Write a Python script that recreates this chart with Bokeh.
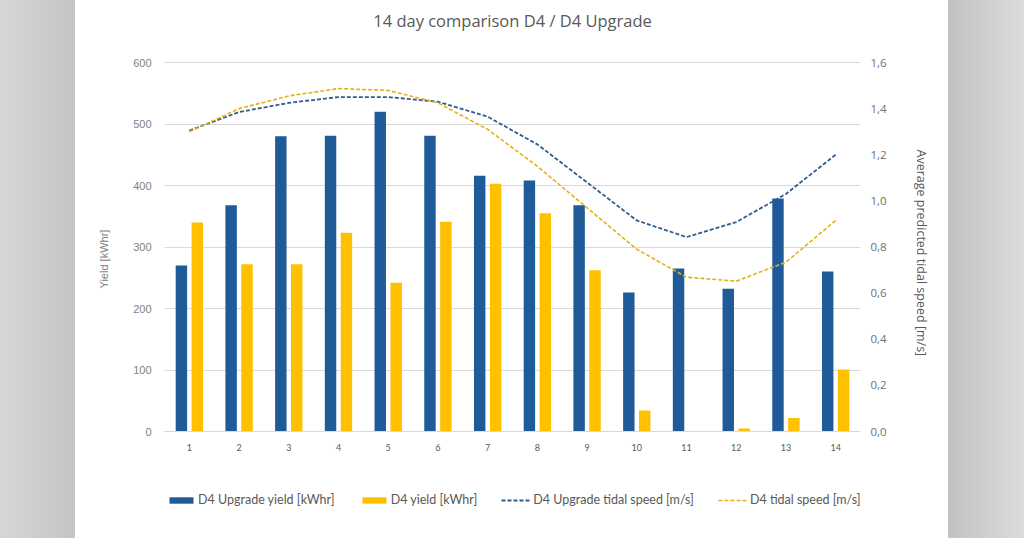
from bokeh.plotting import figure
from bokeh.models import (Range1d, LinearAxis, FixedTicker, CustomJSTickFormatter,
                          Legend, LegendItem, Spacer, ColumnDataSource, Label)
from bokeh.layouts import row
from bokeh.embed import file_html
from bokeh.resources import INLINE
from bokeh.transform import dodge

# ---- data ----
days = list(range(1, 15))
day_labels = [str(d) for d in days]
upgrade_yield = [270, 368, 480, 481, 520, 481, 416, 408, 368, 226, 265, 232, 379, 260]
d4_yield = [340, 272, 272, 323, 242, 341, 403, 355, 262, 34, 0, 5, 22, 101]
upgrade_speed = [1.305, 1.385, 1.425, 1.45, 1.45, 1.43, 1.365, 1.245, 1.08, 0.915, 0.843, 0.908, 1.03, 1.2]
d4_speed = [1.30, 1.40, 1.455, 1.487, 1.479, 1.425, 1.31, 1.15, 0.97, 0.79, 0.669, 0.652, 0.734, 0.915]
yield_ticks = [0, 100, 200, 300, 400, 500, 600]
speed_ticks = [0.0, 0.2, 0.4, 0.6, 0.8, 1.0, 1.2, 1.4, 1.6]
title_text = "14 day comparison D4 / D4 Upgrade"
Y_MAX = 600
S_MAX = 1.6

src = ColumnDataSource(dict(day=days, up=upgrade_yield, d4=d4_yield,
                            ups=upgrade_speed, d4s=d4_speed))

BLUE = "#1F5B98"
GOLD = "#FFC000"
LBLUE = "#2F5D8F"
LGOLD = "#E3B21A"
GRID = "#D9D9D9"
TXT = "#595959"

# layout geometry (pixels)
FIG_W, FIG_H = 873, 538
TOP, BOTTOM = 0, 30
GRID_TOP_PX, ZERO_PX, TITLE_PX = 62, 431, 20
px_per_unit = (ZERO_PX - GRID_TOP_PX) / Y_MAX
y_end = Y_MAX + (GRID_TOP_PX - TOP) / px_per_unit
y_start = -((FIG_H - BOTTOM) - ZERO_PX) / px_per_unit
s_scale = S_MAX / Y_MAX
s_end, s_start = y_end * s_scale, y_start * s_scale
x_lo, x_hi = 0.5, 14.5

p = figure(width=FIG_W, height=FIG_H, output_backend="svg", toolbar_location=None,
           title=None,
           x_range=Range1d(x_lo, x_hi), y_range=Range1d(y_start, y_end),
           min_border_left=89, min_border_right=88, min_border_top=TOP,
           min_border_bottom=BOTTOM)
p.extra_y_ranges = {"speed": Range1d(s_start, s_end)}
p.outline_line_color = None
p.background_fill_color = "white"
p.border_fill_color = "white"

# chart title, drawn in the band above the 600 line
p.add_layout(Label(x=(x_lo + x_hi) / 2, y=Y_MAX + (GRID_TOP_PX - TITLE_PX) / px_per_unit,
                   text=title_text, text_align="center", text_baseline="middle",
                   text_font="Open Sans", text_font_size="16.5px", text_color=TXT))

b1 = p.vbar(x=dodge("day", -0.16, range=p.x_range), top="up", width=0.23, source=src,
            fill_color=BLUE, line_color=None)
b2 = p.vbar(x=dodge("day", 0.16, range=p.x_range), top="d4", width=0.23, source=src,
            fill_color=GOLD, line_color=None)
l1 = p.line(x="day", y="ups", source=src, y_range_name="speed", line_color=LBLUE,
            line_width=1.8, line_dash="4 2")
l2 = p.line(x="day", y="d4s", source=src, y_range_name="speed", line_color=LGOLD,
            line_width=1.6, line_dash="4 2")

# x axis, drawn on the zero line
xa = p.xaxis[0]
xa.fixed_location = 0
xa.ticker = FixedTicker(ticks=days)
xa.major_label_overrides = {d: s for d, s in zip(days, day_labels)}
xa.axis_line_color = GRID
xa.major_tick_line_color = None
xa.minor_tick_line_color = None
xa.major_label_text_font = "Lato"
xa.major_label_text_font_size = "9px"
xa.major_label_text_color = TXT
xa.major_label_standoff = 6

# left axis
ya = p.yaxis[0]
ya.bounds = (0, Y_MAX)
ya.ticker = FixedTicker(ticks=yield_ticks)
ya.axis_line_color = None
ya.major_tick_line_color = None
ya.minor_tick_line_color = None
ya.major_label_text_font = "Liberation Sans"
ya.major_label_text_font_size = "11px"
ya.major_label_text_color = "#7F7F7F"
ya.major_label_standoff = 7
ya.axis_label = "Yield    [kWhr]"
ya.axis_label_text_font = "Liberation Sans"
ya.axis_label_text_font_size = "11px"
ya.axis_label_text_font_style = "normal"
ya.axis_label_text_color = "#808080"
ya.axis_label_standoff = 20

# right axis
ra = LinearAxis(y_range_name="speed", ticker=FixedTicker(ticks=speed_ticks),
                bounds=(0, S_MAX),
                formatter=CustomJSTickFormatter(code="return tick.toFixed(1).replace('.', ',');"))
ra.axis_line_color = None
ra.major_tick_line_color = None
ra.minor_tick_line_color = None
ra.major_label_text_font = "Open Sans"
ra.major_label_text_font_size = "11.5px"
ra.major_label_text_color = "#707070"
ra.major_label_standoff = 4
ra.axis_label = "Average predicted tidal speed  [m/s]"
ra.axis_label_text_font = "Open Sans"
ra.axis_label_text_font_size = "12.5px"
ra.axis_label_text_font_style = "normal"
ra.axis_label_text_color = TXT
ra.axis_label_standoff = 23
p.add_layout(ra, "right")

p.xgrid.grid_line_color = None
p.ygrid.grid_line_color = GRID
p.ygrid.grid_line_width = 1
p.ygrid.ticker = FixedTicker(ticks=yield_ticks)

legend = Legend(items=[
    LegendItem(label="D4 Upgrade yield [kWhr]", renderers=[b1]),
    LegendItem(label="D4 yield [kWhr]", renderers=[b2]),
    LegendItem(label="D4 Upgrade tidal speed [m/s]", renderers=[l1]),
    LegendItem(label="D4 tidal speed [m/s]", renderers=[l2]),
], location=(2, 1), orientation="horizontal")
legend.padding = 0
legend.margin = 0
legend.spacing = 24
legend.glyph_width = 30
legend.glyph_height = 8
legend.label_standoff = 2
legend.label_text_font = "Lato"
legend.label_text_font_size = "12.5px"
legend.label_text_color = TXT
legend.border_line_color = None
legend.background_fill_alpha = 0
p.add_layout(legend, "center")

left_pad = Spacer(width=75, height=FIG_H,
                  styles={"background": "linear-gradient(to right, #d6d6d6, #c4c4c4)"})
right_pad = Spacer(width=76, height=FIG_H,
                   styles={"background": "linear-gradient(to right, #c2c2c2, #dcdcdc)"})

layout = row(left_pad, p, right_pad)

open("out.html", "w").write(file_html(layout, INLINE))
